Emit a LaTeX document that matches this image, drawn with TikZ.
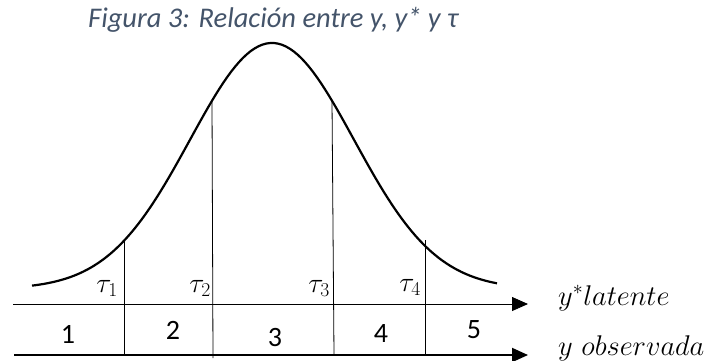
\RequirePackage{fix-cm}
\documentclass[tikz,border=0pt]{standalone}
\usepackage{fontspec}
\newfontfamily\calibri{Carlito}
\usetikzlibrary{arrows.meta}
\definecolor{titulogris}{HTML}{44546A}
% bell curve, in picture units
\newcommand\campana[1]{289-246*exp(-0.5*((#1-272)/82)^2)}

\begin{document}
\begin{tikzpicture}[x=1pt,y=-1pt,
  eje/.style={-{Triangle[length=16pt,width=14pt]}},
  corte/.style={line width=0.8pt},
  cifra/.style={font=\calibri\fontsize{28}{30}\selectfont,inner sep=0pt,anchor=base},
  umbral/.style={font=\fontsize{28}{30}\selectfont,inner sep=0pt,anchor=base east},
  etiqueta/.style={font=\fontsize{28.5}{30}\selectfont,inner sep=0pt,anchor=base west}]
\useasboundingbox (0,0) rectangle (722,360);

\node[font=\calibri\itshape\fontsize{28.5}{30}\selectfont,text=titulogris,
  inner sep=0pt,anchor=base west] (titulo) at (88,27) {Figura 3: Relación entre y, y* y τ};

% density
\draw[line width=2.2pt]
plot[domain=32:497,samples=120] (\x,{\campana{\x}});

% axes
\coordinate (lat0) at (13,304);
\coordinate (lat1) at (528,304);
\coordinate (obs0) at (14,355);
\coordinate (obs1) at (528,355);
\draw[eje,line width=0.9pt] (lat0)--(lat1);
\draw[eje,line width=2pt] (obs0)--(obs1);
\node[etiqueta] (latente) at (558,305) {$y^{*}latente$};
\node[etiqueta] (observada) at (558,355) {$y\ observada$};

% thresholds
\coordinate (t1) at (124,{\campana{124}}); \coordinate (b1) at (124,355);
\coordinate (t2) at (212,{\campana{212}}); \coordinate (b2) at (213,358);
\coordinate (t3) at (332,{\campana{332}}); \coordinate (b3) at (334,355);
\coordinate (t4) at (425,240);             \coordinate (b4) at (425,355);
\draw[corte] (t1)--(b1);
\draw[corte] (t2)--(b2);
\draw[corte] (t3)--(b3);
\draw[corte] (t4)--(b4);
\node[umbral] (tau1) at (118,292) {$\tau_1$};
\node[umbral] (tau2) at (211,292) {$\tau_2$};
\node[umbral] (tau3) at (330,292) {$\tau_3$};
\node[umbral] (tau4) at (421,291) {$\tau_4$};

% categories
\node[cifra] (cat1) at (68,343) {1};
\node[cifra] (cat2) at (173,339) {2};
\node[cifra] (cat3) at (275,346) {3};
\node[cifra] (cat4) at (381,342) {4};
\node[cifra] (cat5) at (474,338) {5};
\end{tikzpicture}
\end{document}
